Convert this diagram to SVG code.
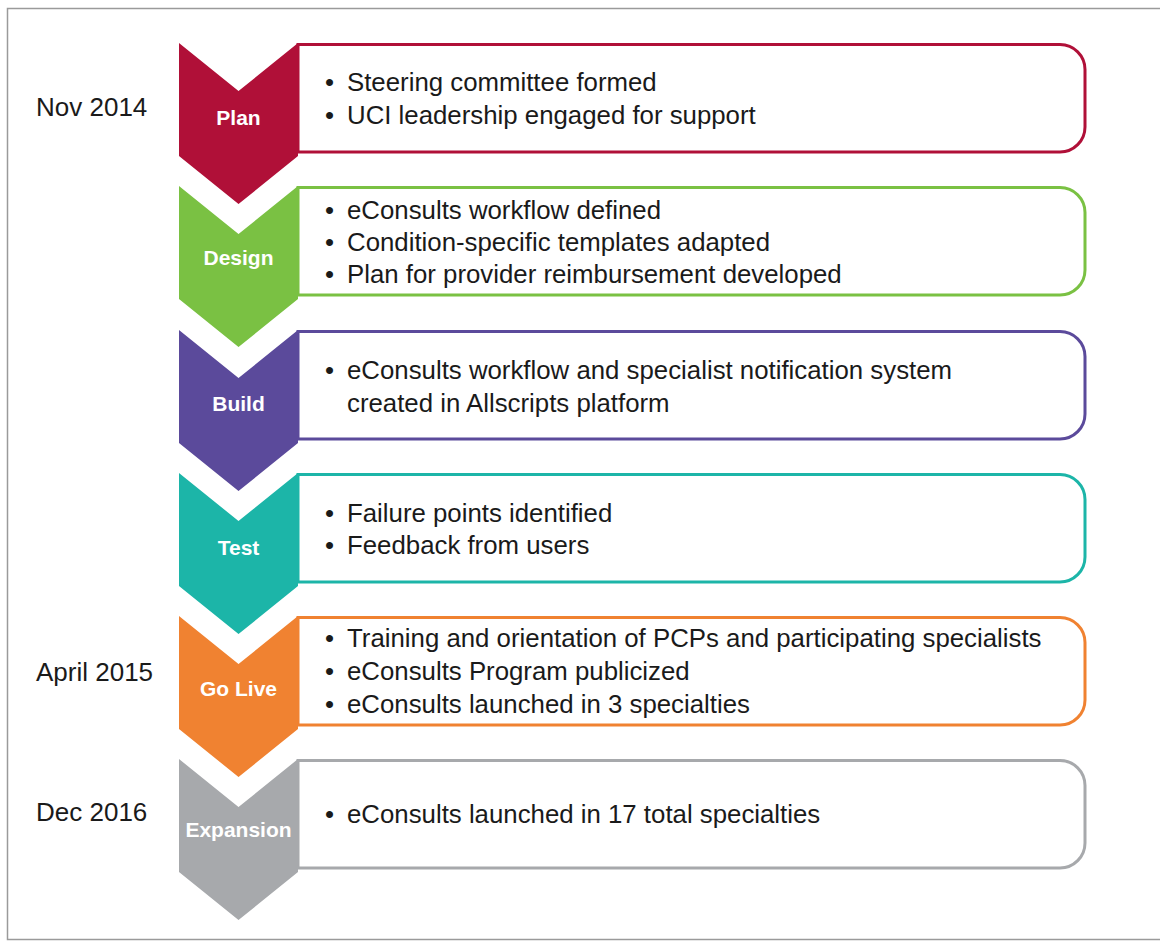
<svg xmlns="http://www.w3.org/2000/svg" width="1160" height="943" viewBox="0 0 1160 943">
<style>
.frame{fill:#fff;stroke:#9a9a9a;stroke-width:1.5}
.box{fill:#fff;stroke-width:3}
.lbl{font-family:"Liberation Sans",Arial,sans-serif;font-weight:bold;font-size:21px;fill:#fff;text-anchor:middle;dominant-baseline:central}
.txt{font-family:"Liberation Sans",Arial,sans-serif;font-size:25.8px;fill:#1a1a1a;dominant-baseline:central}
.date{font-family:"Liberation Sans",Arial,sans-serif;font-size:26px;fill:#1a1a1a;dominant-baseline:central}
</style>
<defs>
<path id="chev" d="M179,0 L238.5,48 L298,0 L298,113 L238.5,161 L179,113 Z"/>
<path id="bx" d="M298,1.5 H1060 A25,25 0 0 1 1085,26.5 V84 A25,25 0 0 1 1060,109 H298 Z"/>
</defs>
<rect class="frame" x="7.5" y="8.5" width="1170" height="931"/>
<g id="connectors"></g>
<text class="date" x="36" y="107">Nov 2014</text>
<text class="date" x="36" y="672">April 2015</text>
<text class="date" x="36" y="812">Dec 2016</text>
<g id="plan" transform="translate(0,43)">
<use href="#bx" class="box" stroke="#B01038"/>
<use href="#chev" fill="#B01038"/>
<text class="lbl" x="238.5" y="74">Plan</text>
<text class="txt" x="325" y="39">•</text><text class="txt" x="347" y="39">Steering committee formed</text>
<text class="txt" x="325" y="72">•</text><text class="txt" x="347" y="72">UCI leadership engaged for support</text>
</g>
<g id="design" transform="translate(0,186)">
<use href="#bx" class="box" stroke="#7AC143"/>
<use href="#chev" fill="#7AC143"/>
<text class="lbl" x="238.5" y="71">Design</text>
<text class="txt" x="325" y="24">•</text><text class="txt" x="347" y="24">eConsults workflow defined</text>
<text class="txt" x="325" y="56">•</text><text class="txt" x="347" y="56">Condition-specific templates adapted</text>
<text class="txt" x="325" y="88">•</text><text class="txt" x="347" y="88">Plan for provider reimbursement developed</text>
</g>
<g id="build" transform="translate(0,330)">
<use href="#bx" class="box" stroke="#5B4A9B"/>
<use href="#chev" fill="#5B4A9B"/>
<text class="lbl" x="238.5" y="73">Build</text>
<text class="txt" x="325" y="40">•</text><text class="txt" x="347" y="40">eConsults workflow and specialist notification system</text>
<text class="txt" x="347" y="73">created in Allscripts platform</text>
</g>
<g id="test" transform="translate(0,473)">
<use href="#bx" class="box" stroke="#1CB5A8"/>
<use href="#chev" fill="#1CB5A8"/>
<text class="lbl" x="238.5" y="74">Test</text>
<text class="txt" x="325" y="40">•</text><text class="txt" x="347" y="40">Failure points identified</text>
<text class="txt" x="325" y="72">•</text><text class="txt" x="347" y="72">Feedback from users</text>
</g>
<g id="golive" transform="translate(0,616)">
<use href="#bx" class="box" stroke="#F08231"/>
<use href="#chev" fill="#F08231"/>
<text class="lbl" x="238.5" y="72">Go Live</text>
<text class="txt" x="325" y="22">•</text><text class="txt" x="347" y="22">Training and orientation of PCPs and participating specialists</text>
<text class="txt" x="325" y="55">•</text><text class="txt" x="347" y="55">eConsults Program publicized</text>
<text class="txt" x="325" y="88">•</text><text class="txt" x="347" y="88">eConsults launched in 3 specialties</text>
</g>
<g id="expansion" transform="translate(0,759)">
<use href="#bx" class="box" stroke="#A7A9AC"/>
<use href="#chev" fill="#A7A9AC"/>
<text class="lbl" x="238.5" y="70">Expansion</text>
<text class="txt" x="325" y="55">•</text><text class="txt" x="347" y="55">eConsults launched in 17 total specialties</text>
</g>
</svg>
